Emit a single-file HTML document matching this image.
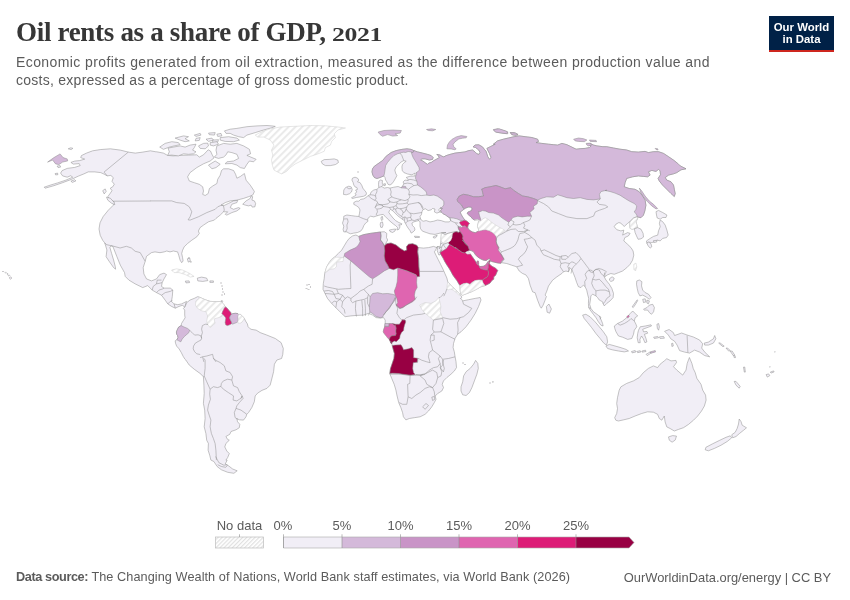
<!DOCTYPE html>
<html><head><meta charset="utf-8">
<style>
html,body{margin:0;padding:0;background:#fff;}
body{width:850px;height:600px;position:relative;overflow:hidden;font-family:"Liberation Sans",sans-serif;}
#title{position:absolute;left:16px;top:15px;font-family:"Liberation Serif",serif;font-weight:bold;font-size:27px;line-height:34px;color:#373737;letter-spacing:-0.31px;white-space:nowrap;}
#sub{position:absolute;left:16px;top:53px;font-size:14px;line-height:18px;color:#5b5b5b;white-space:nowrap;}
#logo{position:absolute;left:769px;top:16px;width:65px;height:33.5px;background:#002147;border-bottom:2.5px solid #ce261e;color:#fff;font-weight:bold;font-size:11.4px;line-height:12px;text-align:center;}
#foot{position:absolute;left:16px;top:569.5px;font-size:12.7px;color:#5b5b5b;white-space:nowrap;}
#foot2{position:absolute;right:19px;top:569.5px;font-size:12.9px;color:#5b5b5b;white-space:nowrap;}
svg{position:absolute;left:0;top:0;}
</style></head><body>
<div id="title"><span id="t1">Oil rents as a share of GDP, </span><span id="t2" style="display:inline-block;font-size:19.5px;transform:scaleX(1.32);transform-origin:0 50%">2021</span></div>
<div id="sub"><span id="s1" style="letter-spacing:0.40px">Economic profits generated from oil extraction, measured as the difference between production value and</span><br><span id="s2" style="letter-spacing:0.26px">costs, expressed as a percentage of gross domestic product.</span></div>
<div id="logo"><div style="margin-top:5px">Our World</div><div>in Data</div></div>
<svg width="850" height="600" viewBox="0 0 850 600">
<!--MAP-->
<defs><pattern id="hatch" width="4.8" height="4.8" patternUnits="userSpaceOnUse" patternTransform="rotate(45)"><rect width="4.8" height="4.8" fill="#fff"/><rect width="2.0" height="4.8" fill="#eaeaea"/></pattern></defs>
<g stroke="#8a8a8a" stroke-width="0.5" stroke-linejoin="round" fill="none">
<path d="M128.3,152.1 135.3,153.1 142.8,152.1 150.4,150.8 155.9,151.8 156.7,151.8 163.4,153.1 167.6,155.4 173.4,155.9 180.1,155.4 188.5,155.1 196.8,154.8 199.3,157.1 203.5,154.8 208.2,149.8 210.5,151.1 212.2,154.8 214,157.9 210.2,161 203.5,163.8 196.8,167.6 190.1,172.6 187.6,176.8 189.3,181 194.3,182.7 199.3,184.3 202.7,186.8 203.5,191 202.7,194.4 205.2,195.5 208.2,193.5 209.4,188.5 212.7,186 216.9,183.5 217.7,179.3 220.2,175.2 221.5,170.5 223.6,168.8 228.6,168.8 233.6,170.5 235.6,174.3 236.9,178.2 240.3,176.5 244.4,173.5 246.1,180.2 250.3,185.2 253.6,190.2 254.4,191.7 252.7,195.1 248.6,196.7 243.6,198.4 236.9,200.1 230.2,200.9 225.2,202.6 221,205.1 224.3,205.4 228.5,203.4 233.5,200.9 237.7,200.4 236.9,202.6 231.9,204.2 230.2,207.6 233.5,209.3 238.5,207.6 240.2,208.4 236.9,210.9 231.9,212.6 226.8,215.1 225.2,214.3 227.7,211.8 223.5,211.8 220.2,215.1 216,218.4 214.3,220.1 208.5,221.8 203.5,225.1 200.1,227.6 198.4,231 199.3,233.5 196.8,236.8 191.8,240.2 187.6,243.5 184.2,246.8 182.6,250.2 181.7,253.5 182.6,257.7 183.1,261 181.7,262.7 180.1,260.2 178.7,255.2 177.6,251.9 173.4,251 170,251.9 166.7,251 164.2,251.9 160,252.7 155,251.9 151.5,252.6 146.5,256.3 145.2,261.3 143.2,267.6 143.9,273.9 146.5,278.9 151.5,280.9 156.5,278.9 159.7,274.6 164,273.1 166.5,274.6 164,278.9 162.2,282.6 161.5,286.4 164,288.1 170.3,288.1 172.8,290.1 172.3,296.4 171.5,301.4 174,303.9 177.8,304.7 181.5,303.9 184,302.7 186.5,301.4 185.3,305.2 184.8,307.7 182.8,305.2 179,306.4 175.3,308.2 171.5,306.4 167.8,303.9 165.2,300.2 161.5,295.2 156.5,292.6 152.2,290.1 147.7,285.6 142.7,287.6 135.2,283.9 128.9,280.1 125.2,276.4 124.5,272.6 120.3,265.1 116.9,256.7 112.8,246.3 111.1,245.8 109.9,247.5 111.6,253.4 113.6,260 115.3,266.7 115.6,269.2 113.6,267.6 109.4,261.7 106.1,256.7 106.9,250 104.9,243.3 105.7,244.1 102.7,240.3 100.2,235.3 99,229 100,222.8 103.2,216.5 108.3,210.2 113.3,205.2 114,201.7 110.3,199.7 107.8,196.7 109.8,193.9 112,190.7 110.3,188.2 112.8,186.7 114.3,184.2 112,181.4 113.3,177.7 110.8,175.4 107.3,175.9 104.2,174.2 100.7,172.6 94.7,171.9 88.2,171.9 83.9,173.9 78.2,176.2 71.4,179.4 62.6,182.7 53.9,185.7 45.1,188.2 44.1,187.2 50.1,185.2 57.6,182.9 65.7,180.2 72.7,177.2 70.7,175.7 67.2,177.2 62.6,175.9 60.6,173.1 62.1,170.6 67.2,168.4 74.7,167.4 80.2,165.6 79.2,163.6 73.2,164.1 70.9,162.4 74.7,161.1 79.7,160.6 84.7,159.1 80.7,157.6 81.4,155.6 86.5,153.1 92.7,150.8 100.2,149.6 110.3,148.8 120.3,150.1Z" fill="#f1eef6"/>
<path d="M216.9,145.9 223.6,143.4 230.2,144.2 236.9,143.4 243.6,145.9 249.4,149.3 250.6,153.8 246.9,155.4 252,157.6 256.1,159.3 253.6,161.8 249.4,161 246.9,164.3 244.4,168.5 240.3,167.6 236.9,165.1 231.9,163.5 225.2,163.8 226.9,161.8 233.6,161 238.6,158.4 236.9,154.3 231.9,152.6 227.7,151.8 226.1,154.8 223.6,157.1 218.5,158.4 214.4,157.1 216.9,154.3 216,150.1Z" fill="#f1eef6"/>
<path d="M168.1,148.1 173.4,147.1 180.1,145.9 185.1,147.1 190.1,145.1 196,144.2 194.3,147.6 192.6,150.1 196,151.8 193.5,153.8 188.5,154.3 183.5,153.8 178.4,155.9 171.8,155.1 167.6,155.4 169.3,151.8Z" fill="#f1eef6"/>
<path d="M159.7,147.1 165.1,143.4 171.8,141.7 178.4,142.6 180.1,144.7 174.3,145.9 169.3,147.1 163.4,149.3Z" fill="#f1eef6"/>
<path d="M175.1,138.1 183.5,135.9 188.5,136.7 185.1,138.7 189.3,140.9 185.1,141.7 180.1,140.1Z" fill="#f1eef6"/>
<path d="M194.3,135.1 200.2,133.4 201,135.1 196,136.4Z" fill="#f1eef6"/>
<path d="M196,138.4 200.2,137.6 199.3,140.4 195.2,140.9Z" fill="#f1eef6"/>
<path d="M208.5,133.1 215.2,132.6 214.4,135.1 209.4,134.7Z" fill="#f1eef6"/>
<path d="M206,139.2 211.9,138.1 213.5,140.1 208.5,141.4Z" fill="#f1eef6"/>
<path d="M216.9,134.2 221,133.4 221.9,135.9 217.7,136.4Z" fill="#f1eef6"/>
<path d="M212.7,140.1 218.5,139.7 217.7,142.1 212.7,142.6Z" fill="#f1eef6"/>
<path d="M220.2,137.6 228.6,136.7 236.9,138.1 239.4,140.1 233.6,141.7 225.2,141.4 220.2,140.1Z" fill="#f1eef6"/>
<path d="M224.4,130.9 230.2,129.2 236.9,128.4 246.9,126.7 257,125.9 267,125.5 272,125.9 275.3,126.4 272,127.7 263.6,130 255.3,132.6 246.9,135.1 243.6,137.6 238.6,136.7 233.6,135.1 230.2,133.4 226.1,133.4Z" fill="#f1eef6"/>
<path d="M198.5,145.9 203.5,143.4 207.7,143.1 208.5,145.9 205.2,148.8 200.2,148.4Z" fill="#f1eef6"/>
<path d="M210.2,142.6 216.9,141.7 218.5,144.2 213.5,145.9 210.2,145.1Z" fill="#f1eef6"/>
<path d="M208.5,165.1 215.2,161 220.2,164.3 216,167.6 211.9,168.8Z" fill="#f1eef6"/>
<path d="M242.7,204.2 246.1,200.9 250.2,198.4 251.1,195.9 252.7,196.7 251.9,200.1 254.4,200.9 255.6,203.4 254.9,206.8 252.2,207.1 251.1,205.1 248.6,205.9 245.2,205.1Z" fill="#f1eef6"/>
<path d="M106.5,197.2 110.3,198.2 114,202.2 114.8,204.7 111.5,203.2 107.8,200.2Z" fill="#f1eef6"/>
<path d="M128.3,152.1 104,172.1 107.3,175.9"/>
<path d="M113.3,201.2 150.4,201"/>
<path d="M150,200.9 171.7,200.9 176.7,202.6 184.2,203.4 189.3,206.8 191.8,211.8 190.1,216.8 188.1,219.8 190.1,220.1 198.4,216.8 206.8,212.6 215.2,209.3 217.7,206.8 221.8,205.1 223.5,205.9 224.3,210.1 223.5,211.8"/>
<path d="M68.2,148.8 70.7,147.8 72.9,148.3 71.2,149.6Z" fill="#f1eef6"/>
<path d="M70.9,181.2 74.7,179.7 75.9,180.9 72.4,182.4Z" fill="#f1eef6"/>
<path d="M57.1,166.1 60.1,165.6 60.6,167.1 58.1,167.6Z" fill="#f1eef6"/>
<path d="M55.1,173.6 57.6,173.1 57.9,174.7 55.6,174.9Z" fill="#f1eef6"/>
<path d="M102.7,190.7 105.2,188.9 106.2,191.4 104.2,193.9Z" fill="#f1eef6"/>
<path d="M185.1,306.7 186.7,302.6 190.1,300 194.2,298.4 197.6,296.7 199.6,297 200.1,297.5 205.1,299.7 210.1,301.4 216.8,301.7 221,301.4 221.2,301.6 223,303.4 224.8,305.9 225.5,306.9 226.9,308 229,310.5 230.8,312.6 231.3,314.4 232.9,313.6 235.4,313.3 237.8,313.6 238.5,314.4 240.3,314.4 242.4,316.1 244.2,318.2 245.6,321.1 247.4,323.9 248.1,326.7 250.2,328.8 251,329.3 256.1,330.1 260.2,332.6 266.9,335.1 275.3,338.5 281.1,342.6 283.3,348.5 282.8,354.3 281.6,358.5 276.9,360 274.4,364.2 273.6,371.7 271.5,380 270.2,385.1 266.9,388.4 261.9,390.4 257.7,393.1 255.2,395.9 254.3,401.8 251.8,407.6 248.5,412.6 246.8,414.3 246,416.8 243.5,420.1 239.3,419.8 236.8,418.5 237.6,421.8 239.8,424.3 239.3,427.7 236,429.8 231,431.5 229.8,434.3 225.9,436.5 227.6,439.4 229.3,440.2 225.9,443.5 224.8,446.9 226.8,451 229.3,453.6 227.6,457.7 225.9,460.1 227.2,460.2 225.2,464 227.7,465.2 232.7,469 237.2,470.8 233.9,473.3 227.7,472.3 221.4,469.8 217.1,466.5 213.9,461.5 210.9,460.1 209.7,455.2 208.1,450.2 208.4,443.5 206.7,440.2 205.9,433.5 204.2,426.8 205.1,418.5 204.7,410.1 203.4,403.4 204.2,393.4 203.9,385.1 203.4,376.7 200,373.4 194.2,369.2 189.2,365 185.8,360 185.1,359.4 183.3,356.6 181.2,352.4 179.1,348.9 176.6,346.1 175.5,343.2 175.2,340.8 176.9,339.7 178,337.6 177.6,335.5 176.6,334.1 176.4,331.9 177.6,329.1 178.7,327 181.2,325.6 181.5,323.5 183.3,320.6 185.1,317.8 184.7,315 184.7,310.1 183.4,308.4Z" fill="#f1eef6"/>
<path d="M199.6,297 200.1,297.5 205.1,299.7 210.1,301.4 216.8,301.7 221,301.4 221.2,301.6 223,303.4 224.8,305.9 225.5,306.9 224.4,308 223.7,309.4 222.6,311.5 221.9,313.6 222.8,314.8 221.6,316.5 219.1,317.5 216.3,318.2 214.2,318.9 214.5,321.1 215.2,323.2 213.5,324.6 211.4,326.7 209.9,327.4 208.5,325.3 207.1,323.9 206.8,320.9 207.6,315.9 205.9,311.7 201.8,310.9 197.6,308.4 195.4,305.1 195.9,300.9 198.8,298.4Z" fill="url(#hatch)" stroke="#cfcfcf"/>
<path d="M225.5,306.9 226.9,308 229,310.5 230.8,312.6 231.3,314.4 230.1,316.1 229.6,317.9 230.4,320 231.5,322.1 231.8,323.5 230.1,324.6 227.6,325.6 225.8,324.9 225.1,322.8 225.5,320 225.8,317.9 224.1,315.8 221.9,313.6 222.6,311.5 223.7,309.4 224.4,308Z" fill="#dd1c77"/>
<path d="M231.3,314.4 232.9,313.6 235.4,313.3 237.8,313.6 238.5,314.4 238,316.8 238.2,319.6 237.8,321.8 236.1,322.8 233.9,323.5 232.9,324.2 231.8,323.5 231.5,322.1 230.4,320 229.6,317.9 230.1,316.1Z" fill="#d4b9da"/>
<path d="M238.5,314.4 240.3,314.4 242.4,316.1 244.2,318.2 243.5,320 242.1,322.1 240.3,323.2 238.2,323.2 237.8,321.8 238.2,319.6 238,316.8Z" fill="url(#hatch)" stroke="#cfcfcf"/>
<path d="M181.2,325.6 184,327 187.5,328.4 189.6,330.2 188.9,332.6 186.8,334.4 184.4,336.5 182.2,339 180.8,341.8 178.7,340.8 176.9,339.7 178,337.6 177.6,335.5 176.6,334.1 176.4,331.9 177.6,329.1 178.7,327Z" fill="#d4b9da"/>
<path d="M201.6,338.3 201.3,336.2 202.4,332.6 201.6,329.1 202.4,325.6 205.2,324.2 208,324.5"/>
<path d="M189.6,330.2 191.8,332.3 194.6,335.1 198.1,334.8 200.9,335.8 201.6,338.3"/>
<path d="M201.6,338.3 200.9,340.1 198.1,341.5 195.3,343.2 193.5,346.1 193.2,348.9 194.6,351.7 196.7,353.8 200.2,354.5"/>
<path d="M200.1,357.7 202.6,356.8 206.8,356 212.6,354.3 213.5,358.5 216,361.9"/>
<path d="M202.6,356.8 203.8,361.9"/>
<path d="M203.9,358.3 205.1,360 205.1,368.4 204.2,375.9 203.4,376.7"/>
<path d="M204.2,375.9 206.7,381.7 210.1,389.2"/>
<path d="M210.1,389.2 213.4,386.7 217.6,387.6 220.9,386.4"/>
<path d="M213.4,358 215.1,360 220.1,362.5 224.3,365.8 225.9,370.9 230.1,372.5 232.6,376.7 231.8,380"/>
<path d="M231.8,380 227.6,379.2 223.4,380.9 221.4,383.4 220.9,386.4"/>
<path d="M231.8,380 233.5,385.9 237.6,387.6 239.3,391.7 242.1,395.9 241,398.4"/>
<path d="M220.9,386.4 223.4,389.2 228.4,392.6 233.5,395.9 233.1,400.1 236.8,400.9 239.3,399.3 241,398.4 242.1,395.9"/>
<path d="M242.1,395.9 243.1,398.4 239.3,402.6 236.8,405.9 236,408.4"/>
<path d="M236,408.4 241,410.1 246.8,414.3"/>
<path d="M236,408.4 234.3,412.6 235.1,417.6 237.6,419.3"/>
<path d="M210.1,389.2 209.7,394.2 210.4,399.3 208.4,405.1 207.6,410.1 209.2,415.1 210.9,420.1 210.1,426.8 211.4,433.5 213.4,438.5 215.1,443.5 215.9,450.2 216.4,460.1"/>
<path d="M215.6,456.5 218.9,462.7 223.9,465.2 227.2,464.7"/>
<path d="M217.6,464.7 221.4,466.5 225.7,467.3 227.7,465.2"/>
<path d="M105.9,244.5 113.9,246.3 120.1,248 126.4,246.3 131.4,248 135.2,251.3 140.2,252.6 145.2,261.3"/>
<path d="M152.2,290.1 153.2,286.4 156.5,283.9 160.2,283.1 162.2,282.6"/>
<path d="M156.5,292.6 159,290.1 162.7,288.9 164,288.1"/>
<path d="M161.5,295.2 165.2,292.6 170.3,291.4 172.8,290.1"/>
<path d="M167.8,303.9 170.3,301.4 172.3,300.7"/>
<path d="M174,303.9 175.3,308.2"/>
<path d="M156.5,283.9 157.2,280.1 161.5,280.1"/>
<path d="M255.2,135.1 262.8,131.3 270.3,128.8 280.3,127 295.3,126.3 310.4,125.5 325.4,125.8 337.9,127 345.5,128 337.9,130 334.2,133.8 335.4,137.6 331.7,141.3 330.4,145.1 325.4,147.6 324.2,151.3 317.9,153.9 310.4,156.4 302.9,160.1 295.3,163.9 290.3,167.6 286.6,171.4 281.6,173.9 277.8,172.1 274,170.1 272.3,165.1 271.5,160.1 272.8,155.1 271.5,150.1 274,145.1 270.3,140.1 264,137.1 257.8,137.1Z" fill="url(#hatch)" stroke="#cfcfcf"/>
<path d="M321.2,161.4 324.2,159.6 329.2,159.4 334.2,158.9 337.9,160.1 338.4,162.6 335.4,164.6 330.4,165.6 325.4,165.6 322.4,163.9Z" fill="#f1eef6"/>
<path d="M171.5,270.1 176.5,268.8 182.8,270.1 189.1,273.1 194.1,276.4 190.3,277.1 185.3,274.6 179,272.6 174,272.6Z" fill="url(#hatch)" stroke="#cfcfcf"/>
<path d="M197.3,278.1 201.6,277.1 206.6,278.1 207.8,280.6 202.8,281.4 197.8,280.9Z" fill="#f1eef6"/>
<path d="M185.3,281.1 189.1,280.9 189.6,282.6 186,282.9Z" fill="#f1eef6"/>
<path d="M209.9,280.9 213.4,280.9 213.4,282.4 209.9,282.4Z" fill="#f1eef6"/>
<path d="M187.3,258.8 189.8,258.1 190.3,261.3 188.3,262.1Z" fill="#f1eef6"/>
<path d="M412.8,152.5 413.8,150.6 417.5,151.9 422.5,153.1 427.5,154.4 431.2,155.6 433.1,157.5 432.5,159.4 429.4,160 425,158.8 421.9,158.8 420.6,160 423.1,161.2 425.6,163.1 427.5,164.4 428.8,163.1 431.2,162.5 433.8,160.6 436.2,159.4 439.4,157.5 438.1,155.6 436.9,154.4 440,155 441.9,156.2 443.8,156.9 446.2,155.6 450,154.4 455,153.1 460,152.5 465,151.9 468.8,150.6 472.5,150 475,151.9 476.9,153.8 478.8,154.4 480,152.5 478.8,150 475.6,147.5 473.1,146.9 475,145 478.8,144.8 482.5,146.9 484.4,149.4 486,151.2 487.8,156.7 489.4,159.2 491.1,157.6 489.4,153.4 486.9,148.4 490.3,146.7 495.3,144.2 493.4,144.2 497.5,140.9 503.4,139.2 508.4,138 514.2,136.7 519.3,135.9 525.1,136.7 531.8,137.5 537.6,139.2 538.5,141.4 536,142.6 541.8,143.4 548.5,144.2 553.5,144.7 557.7,145.1 561.9,143.4 566.9,144.7 571,146.7 576.1,149.2 580.2,148.7 585.2,148.4 589.4,147.6 591.1,145.9 586.9,144.2 590.3,143.4 593.6,145.1 596.9,145.9 602.8,146.7 606.7,146.7 613.4,148 620,149.2 626.7,150 631.7,151.7 638.4,152.1 645.1,151.4 648.4,152.6 653.5,151.7 658.5,151.7 663.5,153.4 668.5,156.7 673.5,160.1 677.7,163.4 680.2,165.9 686,168.8 681,169.8 676.8,172.6 673.5,173.8 668.5,175.1 665.2,177.6 666.8,180.1 671,181.8 673.5,185.1 674.3,189.3 675.2,193.5 674.3,196.5 671,193.5 666.8,189.3 662.6,185.1 659.3,181 658.1,178.4 660.5,174.8 660.1,170.9 658.5,169.3 656,171.4 651.8,170.4 648.4,171.8 650.1,175.1 647.6,176.8 643.4,176.4 638.4,175.9 632.6,176.8 626.7,178.4 625.1,182.6 624.2,186.8 629.2,188.5 635.1,189.3 639.3,191.8 642.6,196 645.1,200.2 645.9,205.2 644.8,211 643.4,215.2 640.9,217.7 637.6,216.9 636.8,216.7 637.6,218.7 636,221.7 636.8,224.7 637.6,227.6 641,229.2 643.1,233.4 643.5,237.1 641,238.8 638.1,239.3 636.5,235.9 635.1,232.6 634.3,228.7 632.1,229.2 630.1,228.4 629.8,225.1 630.1,221.4 627.6,223.4 624.3,226.4 622.6,225.1 620.9,223.1 618.8,222.6 615.9,224.2 614.2,226.7 616.8,229.7 620.9,230.9 623.8,230.1 623.1,233.4 622.6,235.1 627.6,232.6 630.1,233.4 628.4,235.9 624.8,237.6 623.8,240.9 627.6,244.3 631,247.6 633.1,251 633.8,255.1 632.6,260.1 630.1,264.3 626.8,267.7 622.6,271 618.4,272.7 614.2,274.3 610.9,273.5 607.6,274.8 604.7,276.8 605.1,272.5 603.8,275.9 605.9,280 609.3,284.2 611.8,288.4 613.5,293.4 613.1,297.6 610.1,300.9 606.8,303.4 604.3,305.9 603.1,303.8 602.6,301.8 599.3,300.1 597.6,297.6 595.9,295.9 592.6,294.2 590.9,295.9 590.4,300.1 589.7,304.3 590.9,308.4 593.4,311.8 595.9,313.5 599.3,316 600.9,319.3 602.6,323.5 603.1,326 600.9,325.2 598.4,321.8 595.9,317.6 593.4,314.3 590.9,311 588.7,307.6 588.4,303.4 588.7,298.4 587.6,294.2 586.7,290.1 585.1,286.7 583.4,285.1 580.9,287.6 578.4,286.7 576.7,282.6 575,277.5 573.4,273.4 571.7,269.2 569.2,267.5 568.5,271.8 566,271 563.5,271.8 561.8,273.5 556.8,276.9 552.6,280.2 548.5,286 546.8,291.1 545.1,295.1 546.4,296.5 545.1,300.2 543.1,305.2 541.3,308.2 540.1,306.5 537.6,300.2 535.1,292.7 532.6,291.9 530.1,285.2 528.4,278.5 525.9,274.9 522.6,273.5 519.2,271 516.7,266.8 511.7,265.2 506.7,263.5 501.7,262.7 500.9,263.3 497.4,262.9 494.5,262.2 491.7,261.5 490.3,260.5 489.9,258.7 488.2,259.1 486.1,260.5 483.2,260.1 480.4,258.7 477.6,256.9 475.5,254.8 473.4,251.6 471.2,250.6 469.5,250.2 467,251.6 470.2,253.8 471.9,256.2 473.7,258.7 475.1,260.8 476.2,262.6 476.9,263.3 477,261.2 478.3,261 478.6,262.6 478.6,264.4 477.7,264.8 479,265.4 479.7,267.2 480.1,266.5 483.2,266.3 485.4,265.3 486.8,263.4 488.2,261.3 488.9,260.8 489.9,260.5 490.2,261.9 489.2,262.9 490.3,265.1 492.4,266.5 495.6,268.2 497.7,270.4 496.6,272.8 495.6,275.3 493.8,276.7 493.7,279.2 492.1,280.2 490,283.1 487.5,284.4 485,285.6 480.6,286.9 476.2,289.4 471.2,291.9 466.2,293.8 462.5,295.2 460.6,293.8 460.2,290 460,285.6 458.8,283.8 456.9,280.6 455,278.1 452.8,275 451.2,271.9 449.4,268.8 446.9,265 445,261.9 443.1,258.1 441.2,255 440,252.5 441.9,249.6 440,254.8 438.8,255 437.2,250.6 437.9,246.5 439.4,246.5 439.4,248.8 440,247.5 440.6,243.8 441,240 441.2,236.2 441.5,232.8 446,232.5 440,233.1 435,234.4 430,233.8 426.2,232.5 422.5,231.2 420.6,228.8 420,226.2 420,223.8 420,221.9 418.8,220.6 416.2,221.2 413.8,221.9 411.9,223.1 412.5,225.6 414.4,227.5 415,230 413.1,231.9 411.2,233.1 410,230.6 408.1,228.1 406.2,225 405.6,223.1 405,223.1 404.4,220.6 402.5,219.4 400,217.5 397.5,215.6 395,213.1 392.5,210.6 390.6,209.4 389.4,210.6 388.8,212.5 390.6,215 393.1,218.1 395.6,220.6 398.8,222.5 401.9,223.8 401.2,225 398.8,224.8 400,226.9 398.8,229.4 396.9,230 397.5,227.5 395.6,225.6 393.1,223.8 390,221.2 387.5,218.8 385,216.2 383.1,214.4 380.6,214.8 377.5,215.6 373.8,216.9 370.6,216.2 368.1,218.1 367.5,220 368.1,221.2 365.6,223.1 363.8,225.6 362.5,228.8 360.6,231.2 357.5,232.5 353.8,233.1 350.6,233.8 348.8,233.1 346.9,231.9 343.8,231.9 343.1,229.4 343.8,226.2 342.5,223.1 343.5,220 343.8,216.2 346.9,215 351.2,215.6 355.6,216.2 358.8,216.5 359.4,213.8 360,210 358.8,207.5 356.2,205.6 353.8,204.4 353.8,202.5 356.2,201.2 358.8,201.2 360.6,199.4 363.8,198.8 366.9,196.9 368.1,195.6 370,194.8 371.2,191.9 373.8,190 376.2,189.4 376.9,189.4 378.8,187.5 378.5,184.4 378.8,181.2 380.6,180 382.5,180.6 382.2,183.1 383.1,185 381.9,186.5 382.5,187.2 384.4,188.1 387.5,187.5 390,188.1 393.8,187.2 398.1,186.5 401.2,187.8 402.5,186.2 403.8,183.8 403.1,181.9 405,180 408.1,180.6 408.1,179.4 406.2,177.5 410,176.2 415,176 415,173.1 411.9,174.8 407.5,174 403.8,172.5 401.9,170 402.2,169.4 401.9,166.9 402.5,164.4 404.4,162.5 406.2,161.2 403.8,160.6 403.8,160.6 401.2,161.9 398.8,164.4 396.2,166.9 394.8,170 395.6,173.1 396.9,175.6 395.6,178.1 393.8,181.2 391.9,183.8 390,185 388.1,184.4 386.9,181.9 385.6,180 385,177.5 383.8,176 383.1,176.2 380,177.5 376.9,178.5 374.4,177.5 372.8,175 372,171.9 372.5,168.8 374.4,166.2 376.2,165 382.5,160.6 386.2,156.2 391.2,152.5 396.2,150.6 401.9,149.4 406.9,148.8 411.2,149.4 413.8,150.6Z" fill="#f1eef6"/>
<path d="M460.1,212.1 462.6,210.3 465.4,208.2 468.2,207.1 471.1,207.1 472.1,208.9 471.4,210.6 469.6,211.4 467.9,212.1 467.2,213.5 468.9,215.2 471.1,217 472.8,219.1 474.6,220 477.4,219.5 478.8,220.9 478.1,223.4 477.4,226.2 478.5,229 478.5,231.1 475.3,232.7 472.5,232 470.4,230.8 468.2,229 467.7,227.2 468.2,224.8 469.5,223.7 467.9,221.9 466.1,220.7 464.4,219.5 462.6,217 461.2,214.5Z" fill="#fff"/>
<path d="M440,208.1 442.5,208.5 440.6,210.2 441.5,212.2 439.4,211.5 438.8,209.8Z" fill="#fff"/>
<path d="M420.6,218.8 420,216.5 421.5,214.4 421.9,211.9 423.1,209.4 425.6,208.8 428.1,210.6 431.2,209.8 432.5,208.5 435,209 434.4,211.9 436.9,213.1 439.4,212.2 441.5,212.2 443.1,213.8 445.6,215 448.1,216.9 450,218.1 450.6,220.6 449.4,221.9 445,221.9 441.2,220.6 437.5,220 433.8,221.2 430,221.9 426.2,220.6 423.1,221.2 421.2,220Z" fill="#fff"/>
<path d="M352.6,235.9 355.9,235 358.8,236.4 363.4,234.7 370.1,233.4 376.8,232.5 380.5,232 384.3,231.7 386.8,233.4 386.5,237.5 387.7,240 386,243 384.3,245.9 386.8,243.7 391,243 396,245 400.2,248.4 404.4,250.9 406.9,250.1 406.5,246.7 408.5,244.2 412.7,243.7 416.9,245.4 418.2,247.6 423.6,248.1 428.6,247.6 433.6,246.4 436.9,247.6 437.5,246.2 435.6,250 434.4,251.9 436.2,255.6 438.1,259.4 440.6,264.4 443.1,269.4 445,273.8 446.9,278.1 447.8,281.9 449.4,283.8 451.9,286.2 455,289.4 458.1,292.5 460.6,295.2 461.9,297.2 460.5,298.5 461,298.4 462.6,300.9 468.5,299.7 475.2,298.4 480.2,297.5 481,300 478.5,306.7 475.2,313.4 471,320.1 466,326.8 461,331.8 457.6,334.3 455.1,338.4 453.5,343.5 453.1,347.6 454.3,351.8 455.1,356.8 456,361.7 456.5,367.6 454.4,370.9 451,374.2 446.8,377.6 443.5,380.9 442.2,384.3 443.5,387.6 441.8,391 437.7,393.5 435.2,396 436,399.3 434.3,402.6 431.8,406.8 428.5,411 425.1,414.3 420.1,416.8 414.3,417.7 409.3,418.5 405.9,419.9 403.4,416.8 402.6,412.7 400.9,407.7 398.7,402.6 397.1,396 395.9,390.1 394.2,384.3 391.7,378.4 389.7,373.4 390.5,368.5 392.2,363.5 393.9,358.5 394.4,353.5 393.2,349.3 392.2,345.5 391.8,343.5 390.2,341 388.5,337.6 386,333.8 383.8,330.9 384.3,328.1 385.2,323.4 385.2,320.1 383.5,317.6 380.2,318.1 376,317.6 372.6,315.1 368.5,313.4 363.4,315.1 356.8,315.4 350.9,315.9 345.1,316.7 340,311.9 335.9,307.7 331.7,303.5 327.5,298.5 325,293.5 323,289.3 323.3,283.5 324.2,278.5 324.7,273.4 326.7,266.8 329.2,262.6 331.7,259.2 335,256.7 338.4,253.4 341.7,250.1 344.2,245.9 346.7,241.7 349.2,238.4Z" fill="#f1eef6"/>
<path d="M461,386.8 462.7,381.8 463.6,375.9 466.1,371.7 470.2,368.4 473.6,364.2 475.6,360.4 477.8,363.4 478.3,368.4 476.9,374.2 474.4,380.9 471.9,387.6 469.4,392.6 466.1,395.5 462.7,394.8 461,391Z" fill="#f1eef6"/>
<path d="M358.8,236.4 363.4,234.7 370.1,233.4 376.8,232.5 380.5,232 381,235.9 380.5,240 382.6,242.5 384.3,245.9 384.8,250.9 384.3,255.9 385.2,260.9 387.7,265.1 389.3,268.4 384.3,270.9 378.5,275.1 372.6,278.8 369.3,276.8 363.4,271.8 357.6,266.8 350.9,260.9 344.2,255.9 344.7,253.4 350.1,250.1 355.9,247.6 358.4,245 360.1,241.7 359.3,238.7Z" fill="#c994c7"/>
<path d="M384.3,245.9 386.8,243.7 391,243 396,245 400.2,248.4 404.4,250.9 406.9,250.1 406.5,246.7 408.5,244.2 412.7,243.7 416.9,245.4 418.2,247.6 417.7,251.7 418.6,258.4 418.9,266.8 419.4,271.8 419.6,276.5 416.9,276.8 416.1,274.8 406.9,270.9 397.7,268.1 393.5,269.8 389.3,268.4 387.7,265.1 385.2,260.9 384.3,255.9 384.8,250.9Z" fill="#980043"/>
<path d="M397.7,268.1 406.9,270.9 416.1,274.8 416.9,276.8 416.6,282.6 417.2,287.6 415.2,291 414.4,295.2 415.2,299.3 412.7,301.8 409.4,303.5 406,305.2 402.7,307.7 399.4,308.5 396,305.2 397.7,302.7 396.8,298.5 395.2,295.2 394.3,291 396,286.8 397.2,281.8 397.7,275.1Z" fill="#df65b0"/>
<path d="M370.1,296.8 372.6,293.5 377.6,292.7 382.6,293.8 387.7,293.5 392.7,294.3 395.2,295.2 396,297.7 394.3,301 391.8,304.4 389.3,308.5 386,311.9 383.5,315.2 382.6,317.2 380.1,317.7 376,316.5 372.6,313.5 369.8,311.9 369.3,306.9 369.8,301.8Z" fill="#d4b9da"/>
<path d="M384.9,326.3 388.8,326.3 389.1,323.5 392.6,323.5 393.7,324.9 395.5,325.6 396.2,328.1 395.8,331.2 396.2,333.7 395.5,335.5 391.9,335.8 390.2,336.9 389.5,339 388.1,338.6 386.3,336.2 384.5,334.1 383.1,331.9 383.8,329.1 384.5,327.4Z" fill="#df65b0"/>
<path d="M384.9,323.5 388.8,323.5 388.8,326.3 384.9,326.3Z" fill="#d4b9da"/>
<path d="M392.6,323.5 395.5,324.2 399.4,324.2 400.8,322.1 402.5,319.6 405.4,320.3 405.7,322.1 404.6,324.9 403.9,327.7 403.6,330.5 401.5,332.6 400.1,335.5 399.7,338.3 397.6,340.4 396.2,341.8 394.4,341.1 392.3,342.2 391.6,343.6 390.9,342.9 389.8,340.8 389.1,339.4 389.5,339 390.2,336.9 391.9,335.8 395.5,335.5 396.2,333.7 395.8,331.2 396.2,328.1 395.5,325.6 393.7,324.9Z" fill="#980043"/>
<path d="M392.2,345.5 395.2,345.1 401,344.8 402.7,347.6 403.5,349.8 408.6,348.8 411.9,347.6 413.6,350.1 413.6,357.7 417.7,358.2 417.2,362.2 413.2,362.7 412.7,368.5 413.6,372.7 415.2,374.4 410.2,375.2 404.4,374.4 398.5,373.5 392.7,373.2 389.8,373.5 390.5,368.5 392.2,363.5 393.9,358.5 394.4,353.5 393.2,349.3Z" fill="#980043"/>
<path d="M390.2,341.1 391.9,342.2 391.6,343.9 390.9,343.2Z" fill="#980043"/>
<path d="M334.7,257.1 343.4,257.6 343.1,261.4 336.7,262.1 336.4,266.8 334.2,268.8 330,269.3 325,273.1 324.7,273.4 326.7,266.8 329.2,262.6 331.7,259.2Z" fill="url(#hatch)" stroke="#cfcfcf"/>
<path d="M419.7,305 425.1,302.5 430.9,303.4 435.9,300.9 438.8,297.5 440.1,302.5 440.9,306.7 440.1,311.7 442.6,317.6 436.8,318.4 433.4,320.1 429.2,316.7 425.1,313.4 421.7,309.2Z" fill="url(#hatch)" stroke="#cfcfcf"/>
<path d="M447.8,281.9 449.4,283.8 451.9,286.2 455,289.4 458.1,292.5 460.6,295.2 458.8,295 456.2,292.5 453.1,290 450,289 448.1,290 446.9,288.8 447.2,285Z" fill="url(#hatch)" stroke="#cfcfcf"/>
<path d="M380.5,232 381,235.9 380.5,240 382.6,242.5 384.3,245.9"/>
<path d="M344.2,255.9 343.4,257.6"/>
<path d="M350.9,260.9 350.1,265.1 350.4,275.1 350.9,288.5 345.1,288.8 338.4,289.3 332.5,288.1 327.5,287.1 324.2,286"/>
<path d="M372.6,278.8 372.1,284.3 368.4,286 363.8,289.3 360.1,291 357.6,293.5 354.2,296 350.9,298.5 347.6,296.8 345.1,298.5 342.6,295.2 338.4,293.5 336.7,289.3"/>
<path d="M363.8,289.3 365.9,291.8 368.4,294.3 370.1,296.8"/>
<path d="M368.4,294.3 367.6,297.7 364.3,299.3 360.1,300.2 355.9,301 352.6,302.7 350.9,301 350.9,298.5"/>
<path d="M324.2,291 328.4,290.5 332.5,291.5 334.2,294.3 338.4,293.5"/>
<path d="M325,293.5 329.2,293.8 334.2,294.3"/>
<path d="M334.2,294.3 335.9,298.5 340,299.3 342.6,295.2"/>
<path d="M331.7,303.5 334.2,301 336.7,301.8 335.9,307.7"/>
<path d="M336.7,301.8 340,299.3 342.6,301.8 345.1,298.5"/>
<path d="M342.6,301.8 341.7,306.9 344.2,309.4 345.1,313.5"/>
<path d="M355.9,301 355.4,308.5 356.4,316.5"/>
<path d="M361.8,300.2 362.6,308.5 362.6,316.2"/>
<path d="M364.8,299.8 365.4,308.5 365.4,315.9"/>
<path d="M369.3,306.9 367.6,303.5 367.6,297.7"/>
<path d="M369.8,311.9 368.4,315.5"/>
<path d="M418.2,247.6 417.7,251.7 418.6,258.4 418.9,266.8 419.4,271.8"/>
<path d="M419.4,271.4 443.5,271.4"/>
<path d="M446.9,288.8 445.6,292.5 443.8,296.2"/>
<path d="M443.8,293 442.6,295 440.1,297.5 438.8,297.5"/>
<path d="M442.6,317.6 450.1,319.2 456.8,318.7 460.1,317.6 463.5,316.7 468.5,312.6 471.8,308.4 463.5,304.2 462.6,300.9"/>
<path d="M460.1,317.6 457.6,322.6 458.1,330.1 457.6,334.3"/>
<path d="M433.4,320.1 442.6,318.4 443.8,323.4 441.8,329.3 440.9,331.8 434.2,332.1 432.6,329.3 433.4,320.1"/>
<path d="M440.9,331.8 450.1,336.8 455.1,339.3"/>
<path d="M434.2,332.1 430.9,335.1 430.1,340.1 431.4,345.1 432.6,350.1 429.2,352.6 428.4,356.8 430.1,362.7 426.7,361.8 421.7,360.2 418,358.2 417.5,362.7"/>
<path d="M430.9,335.1 434.2,335.1 434.2,340.1 431.4,341"/>
<path d="M432.6,350.1 435.9,352.6 440.1,356 442.6,359.3 448.4,358.5 455.1,356.8"/>
<path d="M440.1,356 438.4,358.5 440.1,363.5 440.9,368.5 443.4,371.9 444.3,368.5 442.6,361.8 442.6,359.3"/>
<path d="M440.1,363.5 437.6,366.8 433.4,367.7 429.2,370.2 425.1,374.4 420,375.5 415.9,374.4"/>
<path d="M403.3,320.4 406.7,317.6 413.4,315.1 421.7,314.2 425.1,313.4"/>
<path d="M395.2,297.5 396,304.2 400.2,308.4 405.2,305.9 410.2,302.5 415.2,299.2 416.9,296.7"/>
<path d="M396,304.2 397.7,308.4 396.9,313.4 399.4,317.6 401.9,320.1"/>
<path d="M383.5,315.1 386,311.7 389.3,307.5 392.7,302.5 395.2,297.5"/>
<path d="M389.7,374.2 400.1,374.2 410.1,375.4 414.3,375.4 420.1,374.7 423.5,374.2"/>
<path d="M410.1,375.9 409.8,383.4 407.6,384.3 408.1,396.8 406.8,404.3 402.6,404.3 399.2,402.6"/>
<path d="M408.1,396.8 411.8,398.5 415.9,395.1 420.1,392.6 425.1,388.4 429.3,386.8 432.6,387.6"/>
<path d="M420.1,375.9 425.1,380.1 426.8,384.3 432.6,387.6 436,383.4 437.7,377.6 436.8,372.6 432.6,370.1 427.6,372.6 423.5,374.2 420.1,375.9"/>
<path d="M432.6,387.6 434.3,391.8 434.8,396.5"/>
<path d="M437.7,377.6 441,375.9 441.8,371.7 440.2,367.6 442.7,365.1 443.5,360"/>
<path d="M422.6,406.8 426,403.5 428.5,405.5 425.1,409.3 422.6,406.8"/>
<path d="M431.8,397.1 434.3,396.5 434.8,399.3 432.6,400.5 431.8,397.1"/>
<path d="M412.8,152.5 413.8,150.6 417.5,151.9 422.5,153.1 427.5,154.4 431.2,155.6 433.1,157.5 432.5,159.4 429.4,160 425,158.8 421.9,158.8 420.6,160 423.1,161.2 425.6,163.1 427.5,164.4 428.8,163.1 431.2,162.5 433.8,160.6 436.2,159.4 439.4,157.5 438.1,155.6 436.9,154.4 440,155 441.9,156.2 443.8,156.9 446.2,155.6 450,154.4 455,153.1 460,152.5 465,151.9 468.8,150.6 472.5,150 475,151.9 476.9,153.8 478.8,154.4 480,152.5 478.8,150 475.6,147.5 473.1,146.9 475,145 478.8,144.8 482.5,146.9 484.4,149.4 486,151.2 487.8,156.7 489.4,159.2 491.1,157.6 489.4,153.4 486.9,148.4 490.3,146.7 495.3,144.2 493.4,144.2 497.5,140.9 503.4,139.2 508.4,138 514.2,136.7 519.3,135.9 525.1,136.7 531.8,137.5 537.6,139.2 538.5,141.4 536,142.6 541.8,143.4 548.5,144.2 553.5,144.7 557.7,145.1 561.9,143.4 566.9,144.7 571,146.7 576.1,149.2 580.2,148.7 585.2,148.4 589.4,147.6 591.1,145.9 586.9,144.2 590.3,143.4 593.6,145.1 596.9,145.9 602.8,146.7 606.7,146.7 613.4,148 620,149.2 626.7,150 631.7,151.7 638.4,152.1 645.1,151.4 648.4,152.6 653.5,151.7 658.5,151.7 663.5,153.4 668.5,156.7 673.5,160.1 677.7,163.4 680.2,165.9 686,168.8 681,169.8 676.8,172.6 673.5,173.8 668.5,175.1 665.2,177.6 666.8,180.1 671,181.8 673.5,185.1 674.3,189.3 675.2,193.5 674.3,196.5 671,193.5 666.8,189.3 662.6,185.1 659.3,181 658.1,178.4 660.5,174.8 660.1,170.9 658.5,169.3 656,171.4 651.8,170.4 648.4,171.8 650.1,175.1 647.6,176.8 643.4,176.4 638.4,175.9 632.6,176.8 626.7,178.4 625.1,182.6 624.2,186.8 629.2,188.5 635.1,189.3 639.3,191.8 642.6,196 645.1,200.2 645.9,205.2 644.8,211 643.4,215.2 640.9,217.7 637.6,216.9 635.9,213.5 634.2,211.9 635.9,209.4 636.8,206 634.2,203.5 629.2,201 625.1,198.5 620,195.2 615,193.1 610,191.5 605,190.5 607,190.2 601.1,191.5 599.4,194.3 600.3,198.9 593.6,199.9 586.9,199.4 580.2,197.7 573.6,198.5 566.9,197.7 561.9,196 557.7,194.8 553.5,197.2 546.8,196.8 541,198.5 537.6,200.2 533.5,198.5 527.6,196.8 522.6,196 518.4,193.5 513.4,190.2 510.9,187.7 505.1,188.8 500,186.8 495.9,185.5 490,186.8 485,187.7 481.7,189.3 481.9,189.3 482.7,192.6 483.6,196 478.6,196.8 473.6,196.8 468.5,195.2 463.5,194.3 459.4,196 457.2,199.3 457.5,201.2 459.4,203.1 461.5,204.8 463.3,208.2 464.4,208.7 462.6,210.3 460.1,212.1 461.2,214.5 462.6,217 464.4,219.5 464.4,220.2 462.6,220.9 459.8,220.2 456.9,218.8 453.4,218.1 449.9,217.7 448.1,216.9 445.6,215 443.1,213.8 441.5,212.2 440.6,210.2 442.5,208.5 440,208.1 440,208.1 441.9,207.5 443.8,205 443.8,201.2 441.2,198.8 437.5,196.2 433.8,195 430,195.6 426.2,195 426.9,194.4 426.2,191.9 423.8,189.4 420.6,186.9 417.5,185 416.9,181.2 415.6,178.8 415.6,176 416.5,174.4 416,172.8 417.5,171.9 419.4,170 419,167.5 416.9,163.8 415,160.6 413.1,157.5 411.9,154.4 411.2,151.9Z" fill="#d4b9da"/>
<path d="M401.2,187.8 402.5,186.2 405.6,186.5 406.2,188.2Z" fill="#d4b9da"/>
<path d="M446.9,148.8 447.5,145 449.4,141.9 451.9,139.4 456.2,136.9 461.2,135.6 466.9,136.5 466.2,137.8 462.5,138.2 458.8,139 455,141.9 453.1,144.4 453.8,146.9 456.2,148.8 455,149.8 451.2,149Z" fill="#d4b9da"/>
<path d="M493.4,130 497.5,128.7 503.4,130.4 508.1,132 506.7,133.7 500.9,133 495.9,132Z" fill="#d4b9da"/>
<path d="M510.4,132.5 514.2,132.5 518.1,134.2 515.9,135.4 511.7,134.7Z" fill="#d4b9da"/>
<path d="M573.6,139.2 578.6,138 583.6,138.7 586.9,140 584.4,141.7 578.6,141.4 575.2,140.9Z" fill="#d4b9da"/>
<path d="M589.4,140 596.1,140.4 596.6,141.7 590.3,141.4Z" fill="#d4b9da"/>
<path d="M586.1,143.4 590.3,143.1 591.6,145.1 588.6,145.9 586.9,145.1Z" fill="#d4b9da"/>
<path d="M639.3,188.1 641.8,191 645.1,196 649.3,201 653.5,204.3 657.6,208.5 656,208.9 651.8,206 647.6,201.8 643.4,196.8 640.9,192.6Z" fill="#d4b9da"/>
<path d="M655.1,148.4 657.6,148.7 658.1,150 656,149.5Z" fill="#d4b9da"/>
<path d="M378.1,132.1 383.9,130.5 392.7,130 401.4,130.5 400.2,133.1 395.2,133.8 397.7,135.6 392.7,136.1 387.7,134.6 382.6,136.3 380.1,134.6Z" fill="#d4b9da"/>
<path d="M426.5,129.5 431.5,128.8 435.8,129.5 432.8,130.8 428.3,130.5Z" fill="#d4b9da"/>
<path d="M493.4,129.5 499.2,128.8 506.7,131.3 507.9,133.8 501.7,133.1 495.4,132.1Z" fill="#d4b9da"/>
<path d="M509.9,132.6 515.5,133.1 518,135.1 513,135.1Z" fill="#d4b9da"/>
<path d="M47.6,162.1 53.9,157.6 60.1,153.9 63.1,157.6 67.2,158.9 67.7,160.9 62.6,162.1 58.9,164.6 55.6,163.9 52.6,160.1Z" fill="#d4b9da"/>
<path d="M457.2,199.3 459.4,196 463.5,194.3 468.5,195.2 473.6,196.8 478.6,196.8 483.6,196 482.7,192.6 481.9,189.3 481.7,189.3 485,187.7 490,186.8 495.9,185.5 500,186.8 505.1,188.8 510.9,187.7 513.4,190.2 518.4,193.5 522.6,196 527.6,196.8 533.5,198.5 537.6,200.2 537.2,203.8 533.5,206.2 534.1,208.8 529.8,212.5 531.6,216.2 527.2,216.2 522.2,216.9 517.9,216.2 512.9,217.5 511,220 508.8,222.2 506,220.6 502.2,218.1 498.5,215 493.5,213.1 488.5,212.5 486,211.2 486.2,211.2 482.5,210.6 479.4,211.9 478.5,211.4 479.5,215.6 480.6,219.1 480.8,220.9 477.4,219.5 474.6,220 472.8,219.1 471.1,217 468.9,215.2 467.2,213.5 467.9,212.1 469.6,211.4 471.4,210.6 472.1,208.9 471.1,207.1 468.2,207.1 465.4,208.2 464.4,208.7 463.3,208.2 461.5,204.8 459.4,203.1 457.5,201.2Z" fill="#c994c7"/>
<path d="M383.1,176.2 380,177.5 376.9,178.5 374.4,177.5 372.8,175 372,171.9 372.5,168.8 374.4,166.2 376.2,165 382.5,160.6 386.2,156.2 391.2,152.5 396.2,150.6 401.9,149.4 406.9,148.8 411.2,149.4 413.8,150.6 412.8,152.5 411.2,151.9 408.1,151.5 405.6,152.5 403.8,152.2 401.9,152.5 400,153.1 397.5,153.8 393.8,155.6 390.6,158.8 387.5,162.5 385.6,165.6 385,170 384.4,173.8 383.8,176Z" fill="#d4b9da"/>
<path d="M460.5,221.6 462.6,220.9 464.4,220.2 466.1,220.7 467.9,221.9 469.5,223.7 468.2,224.8 467.7,227.2 466.5,227.9 465.8,226.2 464.4,225.8 462.9,226.2 461.5,225.5 460.1,223.7 459.4,222.5Z" fill="#dd1c77"/>
<path d="M458,226.2 458.7,226.9 461.2,227.6 463.3,226.2 464.7,226.2 465.8,226.2 466.5,227.9 467.7,227.2 468.2,229 470.4,230.8 472.5,232 475.3,232.7 478.5,231.1 482.4,230.1 485.9,229.7 489.4,230.8 492.2,232.2 494.4,233.9 495.8,236.1 496.5,238.9 496.1,241.7 497.2,244.5 498.6,247 499,247.5 498.1,250 500,252.5 501.9,255 503.5,258.1 504.1,259.1 501.6,261.2 500.9,263.3 497.4,262.9 494.5,262.2 491.7,261.5 490.3,260.5 489.9,258.7 488.2,259.1 486.1,260.5 483.2,260.1 480.4,258.7 477.6,256.9 475.5,254.8 473.4,251.6 471.2,250.6 469.5,250.2 468.8,248.5 468.1,246.4 466.3,244.2 464.2,242.1 462.1,240 467.2,245.6 465.1,243.5 463.6,241 462.6,238.5 462.9,236.1 461.9,233.9 460.1,231.5 458.4,229Z" fill="#df65b0"/>
<path d="M452.7,233.6 454.1,232.2 456.6,231.5 458.7,232.2 460.1,231.5 461.9,233.9 462.9,236.1 462.6,238.5 463.6,241 465.1,243.5 467.2,245.6 462.1,240 464.2,242.1 466.3,244.2 468.1,246.4 468.8,248.5 469.5,250.2 467,251.6 465.6,252.7 464.2,253.1 462.1,252.4 458.5,249.9 455,247.1 456.2,248.8 452.5,246.2 449.4,244.4 448.1,242.5 450.6,240.6 451.9,237.5 452.2,234.4Z" fill="#980043"/>
<path d="M440,252.5 443.1,250.6 446.2,248.8 448.1,246.2 449.4,244.4 452.5,246.2 456.2,248.8 455,247.1 458.5,249.9 462.1,252.4 464.2,253.1 465.6,252.7 467.4,254.1 470.2,253.8 471.9,256.2 473.7,258.7 475.1,260.8 476.2,262.6 476.9,264 477.7,264.8 479,265.4 479.7,267.2 480.8,268.6 483.2,269.3 486.1,270 487.8,269.6 488.5,272.5 488.2,275.3 487.1,277.1 484.6,278.5 482.2,280.2 478.8,280 475,280.6 471.9,282.5 470,284.4 466.9,283.1 463.1,283.8 460,285.6 458.8,283.8 456.9,280.6 455,278.1 452.8,275 451.2,271.9 449.4,268.8 446.9,265 445,261.9 443.1,258.1 441.2,255Z" fill="#dd1c77"/>
<path d="M479.7,267.2 480.1,266.5 483.2,266.3 485.4,265.3 486.8,263.4 488.2,261.3 488.9,262.6 488.2,264.7 488.3,267.2 487.8,269.6 486.1,270 483.2,269.3 480.8,268.6Z" fill="#df65b0"/>
<path d="M477,261.2 478.3,261 478.6,262.6 478.6,264.4 477.7,264.8 476.9,263.3Z" fill="#df65b0"/>
<path d="M488.9,262.9 490.3,265.1 492.4,266.5 495.6,268.2 497.7,270.4 496.6,272.8 495.6,275.3 493.8,276.7 493.7,279.2 492.1,280.2 490,283.1 487.5,284.4 485,285.6 483.1,283.1 482.1,280.2 482.2,280.2 484.6,278.5 487.1,277.1 488.2,275.3 488.5,272.5 487.8,269.6 488.3,267.2 488.2,264.7Z" fill="#dd1c77"/>
<path d="M488.9,260.8 489.9,260.5 490.2,261.9 489.2,262.4Z" fill="#dd1c77"/>
<path d="M460,285.6 463.1,283.8 466.9,283.1 470,284.4 471.9,282.5 475,280.6 478.8,280 482.1,280.2 483.1,283.1 485,285.6 480.6,286.9 476.2,289.4 471.2,291.9 466.2,293.8 462.5,295.2 460.6,293.8 460.2,290Z" fill="url(#hatch)" stroke="#cfcfcf"/>
<path d="M441.5,232.8 445,234.4 448.8,233.1 452.5,232.2 452.2,234.4 451.9,237.5 450.6,240.6 448.1,242.5 445,243.8 442.5,243.1 441.2,240.6 441,238.1 441.2,236.2Z" fill="url(#hatch)" stroke="#cfcfcf"/>
<path d="M474.6,220 477.4,219.5 480.8,220.9 482.4,219.1 485.2,217.7 488,219.1 490.8,221.6 493.6,223.7 496.5,225.5 500,227.6 502.5,228.8 505,230.6 503.1,232.5 500,233.8 497.5,236.2 495.8,236.1 494.4,233.9 492.2,232.2 489.4,230.8 485.9,229.7 482.4,230.1 478.5,231.1 478.5,229 477.4,226.2 478.1,223.4 478.8,220.9Z" fill="url(#hatch)" stroke="#cfcfcf"/>
<path d="M630.1,221.4 633.5,218 636.8,216.7 637.6,218.7 636,221.7 636.8,224.7 637.6,227.6 634.3,228.7 632.1,229.2 630.1,228.4 629.8,225.1Z" fill="url(#hatch)" stroke="#cfcfcf"/>
<path d="M465.6,252.7 467,251.6 468.8,251.3 470.2,253.8 467.4,254.1Z" fill="url(#hatch)" stroke="#cfcfcf"/>
<path d="M600.3,198.9 596.9,201.9 599.4,204.4 605.3,205.2 607.8,206.9 604.5,208.5 599.4,210.2 595.3,211.9 593.6,216.1 586.9,218.6 576.9,218.6 566.9,216.9 558.5,213.6 551.8,211 548.5,206.9 543.5,203.5 540.1,201.9 537.6,200.5"/>
<path d="M524.2,232.1 529.3,235.1 531.8,237.6 527.6,238.8 524.2,239.3 525.9,243.4 527.6,246.8 525.9,251 523.4,254.3 520.1,256.8 518.4,259.3 520.9,262.7 522.6,265.2 516.7,266.8"/>
<path d="M531.8,237.6 535.1,240.1 536.8,245.1 540.1,248.5 541,251 544.3,249.8 550.1,252.6 556,255.5 560.2,256.8 561.5,256 566,255.5 568.2,257.1 571.9,253.5 576,252.6 579.4,256 581,258.5"/>
<path d="M541,251 543.5,254.8 548.5,256.8 554.3,259.3 559.8,260.2 560.2,256.8"/>
<path d="M561.5,256 561.8,259.3 566,259.3 568.2,257.1"/>
<path d="M559.8,260.2 561,263.5 560.2,266.8 563.5,271.8"/>
<path d="M561,263.5 565.2,262.7 569.4,263.5 567.7,266.8 569.4,269.3 568.5,271.8"/>
<path d="M581,258.5 578.5,261.8 576,264.3 573.5,266.8 571.9,269.3 571,273.5"/>
<path d="M569.4,263.5 571.9,261.8 574.4,262.7 576,264.3"/>
<path d="M581,258.5 583.6,261.8 586.1,265.2 588.6,268.5 590.2,271.8 592.7,272.7"/>
<path d="M585.1,286.7 584.7,281.7 586.7,278.4 585.1,274.2 587.6,270.9 590.9,270 593.4,271.7"/>
<path d="M592.7,272.7 594.4,270.2 598.6,268.5 601.9,269.3 605.3,271 606.9,272.2"/>
<path d="M593.4,271.7 595.9,269.2 599.3,270 600.9,273.4 603.8,275.9"/>
<path d="M593.4,271.7 594.2,275.9 592.6,279.2 595.9,280 599.3,279.2 602.6,282.6 605.9,286.7 608.4,289.2 609.3,291.7"/>
<path d="M592.6,279.2 591.7,283.4 593.4,287.6 595.9,290.9 595.9,295.9"/>
<path d="M595.9,290.9 600.1,290.1 605.1,290.1 609.3,291.7 610.1,295.9 606.8,298.4 605.1,301.4 603.1,303.8"/>
<path d="M588.7,307.6 590.9,308.4"/>
<path d="M599.3,316 600.9,317.1 600.1,319.3"/>
<path d="M634.3,228.7 637.6,227.6"/>
<path d="M630.1,221.4 633.5,218 636.8,216.7"/>
<path d="M511,220 514.1,221.9 512.9,224.4 516,225 520.4,224.4 523.5,222.5 527.2,221.2 529.8,220 531.6,216.2"/>
<path d="M508.8,222.2 507.9,225 510.4,226.9 507.9,229.4 506.6,231.2"/>
<path d="M510.4,226.9 512.9,224.4"/>
<path d="M523.5,222.5 524.8,225.6 523.5,228.1 527.9,230"/>
<path d="M498.5,235.6 502.2,233.8 506.6,231.2 511,229.4 515.4,229 518.5,231.5 523.5,231.5 527.9,230 529.8,230.8"/>
<path d="M527.9,230 523.5,232.8 519.8,233.5 518.8,236.2 517.9,240 516,243.8 514.1,246.2 511,248.1 507.9,249.4 504.8,250.6 501.6,251.9"/>
<path d="M501.6,251.9 499.1,249.4 496.6,243.8 496,238.8 498.5,235.6"/>
<path d="M501.6,251.9 500.4,253.8 502.2,256.9 504.1,259.4 501.6,262.5"/>
<path d="M614.7,417.7 616.7,413.5 617.5,408.5 616.7,403.5 617.5,397.6 619.2,390.1 620.9,386.8 626.7,383.4 633.4,380.9 639.2,377.6 643.4,372.6 648.4,368.4 653.4,365.9 657.6,367.6 660.1,364.2 664.3,360.9 666.8,358.7 671,360.9 676,360.4 676.5,362.6 673.5,366.7 676.8,370.1 682.7,375.1 686,370.1 687.2,363.4 689.4,357.5 691.9,363.4 693.2,368.4 695.2,372.6 696.9,378.4 701,384.3 702.7,390.1 705.6,395.1 706.1,400.1 704.4,406 701.5,411 697.7,416 693.5,420.2 688.5,424.4 683.5,427.7 678.5,429.4 674.3,431 670.1,428.5 666.8,426.9 665.1,421.9 664.3,416 661.8,420.2 659.3,418.5 657.6,414.3 653.4,412.2 647.6,411.8 641.7,413.5 635.1,416 629.2,418.5 623.4,419.9 618.4,421 615.8,420.2Z" fill="#f1eef6"/>
<path d="M668.5,436.9 672.6,435.6 676.5,436.1 675.2,440.1 672.1,442.2 669.3,440.2Z" fill="#f1eef6"/>
<path d="M739.2,419 741,421.5 742.2,425.2 746.5,427.8 743.5,430.3 739.7,433.3 736,436.5 732.7,437.8 731.7,434.8 735.2,432.3 737.2,428.3 738.5,424Z" fill="#f1eef6"/>
<path d="M730.2,435.8 731.7,437.8 727.2,441.5 720.9,445.3 714.7,448.3 708.4,450.8 705.2,449.8 705.9,447.3 712.2,444 719.7,440.3 726,437.3Z" fill="#f1eef6"/>
<path d="M734.2,381.4 736,381.4 740.2,386.4 739.2,388.2 736,385.2Z" fill="#f1eef6"/>
<path d="M743.5,367.1 744.8,367.1 745.3,372.1 744.3,372.1Z" fill="#f1eef6"/>
<path d="M766.1,374.6 768.6,373.9 769.8,375.6 767.3,377.1Z" fill="#f1eef6"/>
<path d="M770.3,372.1 773.6,370.9 774.1,371.9 771.1,373.1Z" fill="#f1eef6"/>
<path d="M718.7,343.1 719.9,342.8 724.2,346.1 723,346.8Z" fill="#f1eef6"/>
<path d="M726,348.1 727.7,348.1 730.2,350.6 728.7,351.1Z" fill="#f1eef6"/>
<path d="M730.2,351.1 732.2,351.1 734.7,355.1 733.2,355.6Z" fill="#f1eef6"/>
<path d="M733.7,355.6 735,355.6 735.5,357.6 734.2,357.6Z" fill="#f1eef6"/>
<path d="M704.2,343.1 708.4,342.1 713.4,338.8 714.7,335.5 715.9,338.8 713.4,343.1 708.4,345.1 704.7,345.1Z" fill="#f1eef6"/>
<path d="M664.6,331.3 669.1,329.5 673.3,332.5 674.6,335.5 681.6,333 687.1,335 693.4,337 699.6,340 702.7,343.8 701.7,348.1 705.2,352.6 709.7,356.8 704.7,355.6 699.6,352.1 694.6,350.1 689.6,353.1 684.6,352.1 679.6,350.6 677.1,345.1 674.6,341.3 670.8,338.8 668.3,335Z" fill="#f1eef6"/>
<path d="M687.1,335.5 687.9,352.6"/>
<path d="M582.6,315.1 585.9,314.3 590.1,316.8 595.1,321.8 599.3,326.8 603.4,331.8 606.8,336.8 607.6,341.9 606.4,345.2 603.4,342.7 600.1,338.5 595.9,333.5 591.7,327.7 587.6,322.6 584.2,318.5Z" fill="#f1eef6"/>
<path d="M605.9,346 609.3,344.4 615.1,346 621,347.7 626,349.4 628.5,351 624.3,351.9 618.5,351 612.6,349.9 607.6,348.5Z" fill="#f1eef6"/>
<path d="M614.3,326 617.6,323.5 622.6,321 626.8,317.6 630.2,313.5 632.7,311 635.2,313.5 637.7,316 635.2,317.6 634.3,321 636,324.3 636.8,326.8 634.3,330.2 633.5,334.3 631.8,338.5 627.7,339.4 622.6,337.2 618.5,336 616,331.8 614.8,328.5Z" fill="#f1eef6"/>
<path d="M626.8,316.8 628.5,315.1 629.3,316.5 627.7,318.1Z" fill="#df65b0"/>
<path d="M617.6,323.5 620.1,325.2 624.3,323.5 628.5,321 631,318.5 634.3,321"/>
<path d="M638.5,330.2 640.2,326.8 645.2,326 651,324.8 651.5,326 646.9,327.7 642.7,329.3 643.5,331.8 646.9,331.5 647.7,333.2 644.4,334.3 646,338.5 646.9,341.9 644.9,342.7 643.2,338.5 641.5,336 639.9,339.4 640.2,342.7 638.2,342.7 637.2,337.7 637.7,333.5Z" fill="#f1eef6"/>
<path d="M636.8,280.9 639.4,280 641.9,281.7 641.5,285.9 642.7,290.1 645.2,292.6 648.5,294.2 651,297.6 649.4,299.3 646,296.8 642.7,295.1 639.9,295.9 638.2,292.6 637.2,288.4 636.5,284.2Z" fill="#f1eef6"/>
<path d="M646.9,307.6 649.4,305.1 652.7,304.3 654.4,307.6 653.6,311.8 651.5,314.3 649.4,312.6 647.7,310.1 644.4,310.1 643.5,309.3Z" fill="#f1eef6"/>
<path d="M642.7,299.3 645.2,298.8 646,301.8 643.5,302.6Z" fill="#f1eef6"/>
<path d="M646.9,300.1 649.4,300.9 648.5,303.8 646.9,303.1Z" fill="#f1eef6"/>
<path d="M632.2,306.8 634.3,303.8 637.2,299.8 637.8,300.4 635.2,304.8 633.2,307.6Z" fill="#f1eef6"/>
<path d="M646,354.4 650.2,351.9 651,353.2 647.2,355.6Z" fill="#f1eef6"/>
<path d="M650.2,351.9 655.2,350.5 655.6,351.9 651,353.2Z" fill="#d4b9da"/>
<path d="M631.5,351.5 635.2,350.5 636,351.9 632.2,352.9Z" fill="#f1eef6"/>
<path d="M636.8,351.5 640.2,350.7 641,351.9 637.7,352.7Z" fill="#f1eef6"/>
<path d="M641.9,351 645.5,350.2 646,351.5 642.2,352.2Z" fill="#f1eef6"/>
<path d="M656.9,324.3 658.6,323.5 659.4,326.8 658.6,330.2 657.4,328.5Z" fill="#f1eef6"/>
<path d="M653.6,337.2 657.7,336.5 658.6,337.7 654.4,338.5Z" fill="#f1eef6"/>
<path d="M659.4,336.8 663.6,336.5 664.4,338.2 660.2,338.5Z" fill="#f1eef6"/>
<path d="M671.6,343.5 672.8,343.2 673.3,346 671.9,346.5Z" fill="#f1eef6"/>
<path d="M609.7,278.5 612.1,276.8 614.2,278.2 613.4,280.5 610.9,281.5 609.4,280.2Z" fill="#f1eef6"/>
<path d="M633.8,264.3 636,263.1 636.8,266.8 635.5,271 633.8,269.3Z" fill="url(#hatch)" stroke="#cfcfcf"/>
<path d="M656,211.7 658.5,210.4 662.7,212.5 666.9,215 666,217.5 662.7,217.5 660.2,219.2 657.2,218 656.5,215Z" fill="#f1eef6"/>
<path d="M660.2,220 662.7,221.7 665.2,225.1 666.9,230.1 668.2,235.1 666.5,237.6 662.7,238.4 660.2,240.9 657.2,240.1 654.3,241.8 651.8,242.6 648.8,242.1 646.8,243.1 646.5,240.9 650.2,238.4 653.5,236.4 657.7,235.1 658.5,230.9 660.2,226.7 659.4,223.4Z" fill="#f1eef6"/>
<path d="M646.8,243.1 648.8,242.1 651,243.8 651.8,246.8 650.2,248.1 648.2,245.9Z" fill="#f1eef6"/>
<path d="M653.5,240.6 657.2,240.3 656.5,242.1 653.8,242.4Z" fill="#f1eef6"/>
<path d="M546.4,306.5 548.9,304 551.4,309 549.6,313.2 547.1,312.2Z" fill="#f1eef6"/>
<path d="M352.5,178.1 355,177.2 357.5,178.1 358.8,180 357.5,181.9 360,182.5 361.9,185.6 363.1,188.8 365,190.6 366.5,193.1 366,195 363.8,196.2 360,196.9 356.2,197.5 352.5,198.5 351.5,197.8 354.4,196.2 356.2,195 355,193.5 356.9,191.9 355.6,190 357.5,189.4 356.9,187.5 355,186.9 353.8,185 353.1,182.5 351.9,180Z" fill="#f1eef6"/>
<path d="M343.8,190 345.6,187.5 348.8,186.2 351.2,186.9 352.2,189.4 351.5,191.9 349.4,193.8 346.2,194.8 343.5,194.4Z" fill="#f1eef6"/>
<path d="M346.9,187.5 348.8,188.8 351.2,188.5"/>
<path d="M383.8,183.8 385.6,183.8 385.2,185.6 383.8,185.6Z" fill="#f1eef6"/>
<path d="M389.4,230 392.5,229.4 395.6,229 395,231 392.5,232.5 390,231.5Z" fill="#f1eef6"/>
<path d="M380.6,222.5 382.5,221.9 383.1,225 382.2,227.5 380.6,227.2 380.2,224.4Z" fill="#f1eef6"/>
<path d="M381.2,216.9 382.5,216.5 382.8,219.4 381.8,220.6 381,218.8Z" fill="#f1eef6"/>
<path d="M414.4,236.2 419.4,236.5 419.4,237.5 415,237.5Z" fill="#f1eef6"/>
<path d="M433.1,236.9 435,236 437.2,235.2 436.5,236.9 435,238.1 433.5,237.8Z" fill="#f1eef6"/>
<path d="M2.5,271.5 3,271 3.5,271.5 3,272Z" fill="#f1eef6"/>
<path d="M4.9,272.5 5.5,271.9 6.1,272.5 5.5,273.1Z" fill="#f1eef6"/>
<path d="M6.8,274 7.5,273.3 8.2,274 7.5,274.7Z" fill="#f1eef6"/>
<path d="M8.3,275.5 9,274.8 9.7,275.5 9,276.2Z" fill="#f1eef6"/>
<path d="M9.2,278 10.5,276.7 11.8,278 10.5,279.3Z" fill="#f1eef6"/>
<path d="M306.5,285 307,284.5 307.5,285 307,285.5Z" fill="#f1eef6"/>
<path d="M308.5,284.5 309,284 309.5,284.5 309,285Z" fill="#f1eef6"/>
<path d="M310,287 310.5,286.5 311,287 310.5,287.5Z" fill="#f1eef6"/>
<path d="M308,289.5 308.5,289 309,289.5 308.5,290Z" fill="#f1eef6"/>
<path d="M306,288.5 306.5,288 307,288.5 306.5,289Z" fill="#f1eef6"/>
<path d="M220.5,283 221,282.5 221.5,283 221,283.5Z" fill="#f1eef6"/>
<path d="M221.5,286 222,285.5 222.5,286 222,286.5Z" fill="#f1eef6"/>
<path d="M222,289 222.5,288.5 223,289 222.5,289.5Z" fill="#f1eef6"/>
<path d="M222.5,292 223,291.5 223.5,292 223,292.5Z" fill="#f1eef6"/>
<path d="M221.5,295 222,294.5 222.5,295 222,295.5Z" fill="#f1eef6"/>
<path d="M224,294 224.5,293.5 225,294 224.5,294.5Z" fill="#f1eef6"/>
<path d="M221.1,301.2 222,300.3 222.9,301.2 222,302.1Z" fill="#f1eef6"/>
<path d="M462.5,363 463,362.5 463.5,363 463,363.5Z" fill="#f1eef6"/>
<path d="M464.5,364.5 465,364 465.5,364.5 465,365Z" fill="#f1eef6"/>
<path d="M492.4,382 493,381.4 493.6,382 493,382.6Z" fill="#f1eef6"/>
<path d="M489.5,383 490,382.5 490.5,383 490,383.5Z" fill="#f1eef6"/>
<path d="M774.6,352 775,351.6 775.4,352 775,352.4Z" fill="#f1eef6"/>
<path d="M769.6,367 770,366.6 770.4,367 770,367.4Z" fill="#f1eef6"/>
<path d="M357.5,172 358,171.5 358.5,172 358,172.5Z" fill="#f1eef6"/>
<path d="M188.4,258 189,257.4 189.6,258 189,258.6Z" fill="#f1eef6"/>
<path d="M190.4,262 191,261.4 191.6,262 191,262.6Z" fill="#f1eef6"/>
<path d="M400,153.1 401.9,155.6 403.1,158.8 403.8,160.6"/>
<path d="M343.8,219 347.5,218.8 348.1,221.9 346.9,225 347.2,228.8 345.6,231.9"/>
<path d="M358.8,216.5 360.6,217.5 363.8,218.8 367.5,220"/>
<path d="M368.1,195.6 369.4,196.9 371.9,198.8 374.4,200.2 376.9,201.2 377.5,202.5 376.2,205 375.2,207.5 376.9,209.4 377.5,211.9 376.2,214.4 377.5,215.6"/>
<path d="M370,194.8 371.2,194.8 373.8,195.2 375.6,196.2 376.2,198.8 374.4,200.2"/>
<path d="M375.6,196.2 375.6,194.4 376.9,191.9 376.9,189.4"/>
<path d="M378.8,187.5 380.6,186.9 381.9,186.5"/>
<path d="M390,188.1 391.2,191.9 390.6,195 391.9,196.9"/>
<path d="M391.9,196.9 389.4,198.1 388.1,199.4 390,201.9 388.1,203.8 385,204.4 381.9,204.8 378.8,204.4 377.5,202.5"/>
<path d="M391.9,196.9 393.8,197.8 397.5,198.8 401.2,199.8 405,200.6 408.1,199.4 410,196.9 408.8,194.4 409.4,191.9 408.5,189.4 406.2,188.2"/>
<path d="M408.5,189.4 410.6,187.5 413.8,185.6 417.5,185"/>
<path d="M403.8,183.8 407.5,183.1 411.9,183.8 413.8,185.6"/>
<path d="M408.1,180 410,179.4 413.8,180 416.9,181.2"/>
<path d="M408.8,194.4 413.1,195 417.5,194.8 421.2,195.6 426.2,195"/>
<path d="M388.1,199.4 390,201.9 393.8,202.5 396.9,201.9 399.4,200.6 401.2,199.8"/>
<path d="M396.9,201.9 396.9,203.5 398.8,204 402.5,203.8 406.9,203.1 408.1,201.2 408.1,199.4"/>
<path d="M406.9,203.1 408.5,204.4 411.2,203.8 415,203.1 418.1,202.5"/>
<path d="M418.1,202.5 420,203.1 421.9,205.6 423.1,208.1"/>
<path d="M418.1,202.5 420.6,204.4 421.9,207.5 423.1,209.4"/>
<path d="M381.9,204.8 383.1,206.5 386.2,206.9 389.4,207.5 393.1,206.9 396.2,205.6 396.9,203.5"/>
<path d="M375.2,207.5 376.9,205.2 379.4,204.8 381.9,205 383.1,206.5 381.9,208.1 379.4,208.8 377.5,209 376.9,209.4"/>
<path d="M396.2,205.6 397.5,208.1 400,208.8 403.8,208.1 406.9,206.9 408.5,204.4"/>
<path d="M389.4,207.5 390.6,209.4"/>
<path d="M393.1,206.9 393.8,208.8 395.6,209 397.5,208.1"/>
<path d="M393.8,208.8 392.5,210.6"/>
<path d="M395.6,209 396.2,211.9 398.8,214.4 401.2,216.2 402.5,215 403.1,212.5 401.9,210 400,208.8"/>
<path d="M403.1,212.5 405,211.9 406.2,208.8 406.9,206.9"/>
<path d="M406.2,208.8 407.5,211.2 410,213.1 411.2,215 410.6,217.5 411.9,220"/>
<path d="M410,213.1 413.8,213.8 418.1,213.1 421.9,212.5"/>
<path d="M401.2,216.2 403.1,217.5 405,216.9 406.9,218.1 409.4,217.5 410.6,217.5"/>
<path d="M403.1,217.5 402.5,219.4"/>
<path d="M405,216.9 404.4,220.6"/>
<path d="M405.6,223.1 407.5,221.2 406.9,218.1"/>
<path d="M407.5,221.2 411.9,220 414.4,220.6 417.5,219.4 418.8,220.6"/>
<path d="M417.5,219.4 420.6,218.8"/>
<path d="M441.5,232.8 445,234.4 448.8,233.1 452.5,232.2 455.6,231.5 458.8,232.5 460,231.2 458.8,228.8 458.1,226.9 459.4,226.9 457.5,225.6 456.2,224.4 455.6,222.8 453.1,221.9 450.6,220.6 450,218.1"/>
<path d="M455.6,222.8 458.1,223.1"/>
<path d="M459.4,226.9 461.2,226.2"/>
<path d="M440.6,243.8 442.5,243.1"/>
<path d="M440,247.5 441.9,246.9 443.1,244.4 445,243.8"/>
<path d="M441.9,246.9 440.6,250.6 440,252.5"/>
<path d="M445,243.8 448.1,242.5"/>
<path d="M443.1,244.4 446.2,248.8"/>
</g>
<!--/MAP-->
<!--LEGEND-->
<g font-family="Liberation Sans, sans-serif" font-size="13" fill="#5b5b5b" text-anchor="middle">
<defs><pattern id="hatch2" width="2.9" height="2.9" patternUnits="userSpaceOnUse" patternTransform="rotate(45)"><rect width="2.9" height="2.9" fill="#fff"/><rect width="1.2" height="2.9" fill="#e0e0e0"/></pattern></defs><rect x="215.5" y="537" width="48" height="11" fill="url(#hatch2)" stroke="#bdbdbd" stroke-width="0.7"/>
<line x1="239.5" y1="534.3" x2="239.5" y2="537" stroke="#999" stroke-width="0.7"/>
<text x="239.5" y="530">No data</text>
<rect x="283.5" y="537" width="58.5" height="11" fill="#f1eef6"/>
<rect x="342" y="537" width="58.5" height="11" fill="#d4b9da"/>
<rect x="400.5" y="537" width="58.5" height="11" fill="#c994c7"/>
<rect x="459" y="537" width="58.5" height="11" fill="#df65b0"/>
<rect x="517.5" y="537" width="58.5" height="11" fill="#dd1c77"/>
<path d="M576,537H629L634,542.5L629,548H576Z" fill="#980043"/>
<path d="M283.5,537H629L634,542.5L629,548H283.5Z" fill="none" stroke="#a9a9a9" stroke-width="0.6"/>
<g stroke="#8f8f8f" stroke-width="0.6"><path d="M283.5,534.3V548M342,534.3V548M400.5,534.3V548M459,534.3V548M517.5,534.3V548M576,534.3V548"/></g>
<text x="283" y="530">0%</text><text x="342" y="530">5%</text><text x="400.5" y="530">10%</text><text x="459" y="530">15%</text><text x="517.5" y="530">20%</text><text x="576" y="530">25%</text>
</g>
<!--/LEGEND-->
</svg>
<div id="foot"><b style="letter-spacing:-0.4px">Data source:</b><span style="letter-spacing:0.07px"> The Changing Wealth of Nations, World Bank staff estimates, via World Bank (2026)</span></div>
<div id="foot2">OurWorldinData.org/energy | CC BY</div>
</body></html>
